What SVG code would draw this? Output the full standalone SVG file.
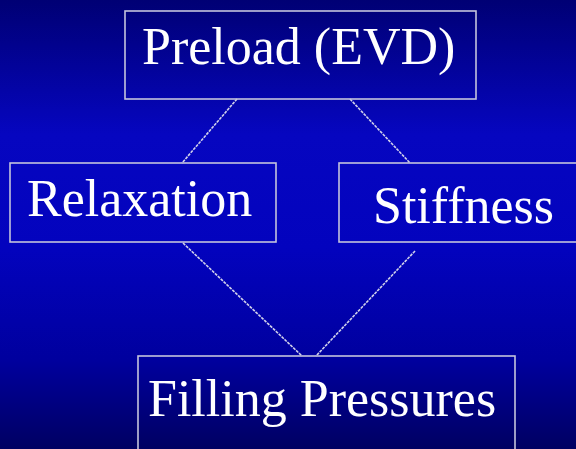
<svg xmlns="http://www.w3.org/2000/svg" width="576" height="449" viewBox="0 0 576 449">
  <defs>
    <linearGradient id="bg" x1="0" y1="0" x2="0" y2="1">
      <stop offset="0" stop-color="#000074"/>
      <stop offset="0.3" stop-color="#0606c0"/>
      <stop offset="0.55" stop-color="#0303be"/>
      <stop offset="0.8" stop-color="#00009e"/>
      <stop offset="1" stop-color="#000062"/>
    </linearGradient>
  </defs>
  <style>
    .box { fill: none; stroke: #c4c4dc; stroke-width: 1.6; }
    .lbl { font-family: "Liberation Serif", "Times New Roman", serif; font-size: 52px; fill: #ffffff; }
    .conn { stroke: #d0d0ea; stroke-width: 1.6; stroke-dasharray: 3 1; fill: none; }
  </style>
  <rect x="0" y="0" width="576" height="449" fill="url(#bg)"/>
  <g id="connectors">
    <line class="conn" x1="237" y1="99" x2="182" y2="163"/>
    <line class="conn" x1="350" y1="99" x2="410" y2="163"/>
    <line class="conn" x1="183" y1="243" x2="302" y2="356"/>
    <line class="conn" x1="415" y1="251" x2="316" y2="356"/>
  </g>
  <g id="preload">
    <rect class="box" x="125" y="11" width="351" height="88"/>
    <text class="lbl" x="142" y="64">Preload (EVD)</text>
  </g>
  <g id="relaxation">
    <rect class="box" x="10" y="163" width="266" height="79"/>
    <text class="lbl" x="27" y="216">Relaxation</text>
  </g>
  <g id="stiffness">
    <rect class="box" x="339" y="163" width="250" height="79"/>
    <text class="lbl" x="373" y="223">Stiffness</text>
  </g>
  <g id="filling">
    <rect class="box" x="138" y="356" width="377" height="110"/>
    <text class="lbl" x="148" y="416">Filling Pressures</text>
  </g>
</svg>
